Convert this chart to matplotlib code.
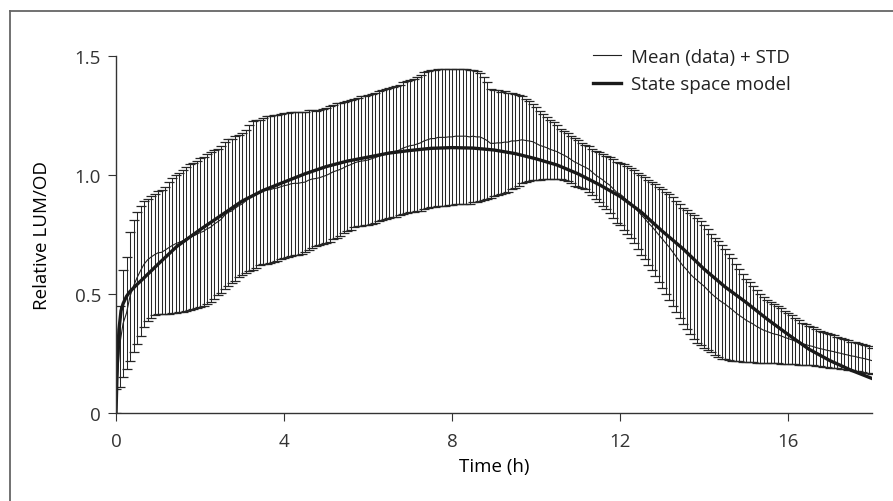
import numpy as np
import matplotlib.pyplot as plt
from matplotlib.lines import Line2D

plt.rcParams.update(
    {
        "font.family": ["Open Sans", "DejaVu Sans"],
        "font.size": 13.5,
        "axes.linewidth": 1.0,
        "axes.edgecolor": "#333333",
        "xtick.color": "#333333",
        "ytick.color": "#333333",
        "text.color": "#222222",
    }
)

# measurements every 5 min, 0..18 h
time_h = np.arange(217) / 12.0

mean_data = [
    0.05, 0.28, 0.375, 0.42, 0.49, 0.533, 0.568, 0.598, 0.625, 0.643, 0.655, 0.665,
    0.673, 0.675, 0.684, 0.694, 0.703, 0.711, 0.717, 0.723, 0.732, 0.739, 0.743, 0.75,
    0.758, 0.763, 0.774, 0.78, 0.793, 0.803, 0.813, 0.83, 0.843, 0.848, 0.86, 0.87,
    0.878, 0.89, 0.903, 0.913, 0.92, 0.925, 0.933, 0.937, 0.938, 0.943, 0.945, 0.95,
    0.955, 0.958, 0.963, 0.965, 0.965, 0.968, 0.97, 0.978, 0.983, 0.985, 0.988, 0.993,
    0.998, 1.005, 1.013, 1.018, 1.023, 1.03, 1.038, 1.043, 1.05, 1.055, 1.058, 1.06,
    1.063, 1.068, 1.073, 1.078, 1.083, 1.088, 1.093, 1.098, 1.10, 1.105, 1.113, 1.118,
    1.123, 1.125, 1.13, 1.135, 1.143, 1.148, 1.153, 1.153, 1.158, 1.158, 1.158, 1.16,
    1.16, 1.163, 1.163, 1.163, 1.163, 1.16, 1.163, 1.16, 1.16, 1.153, 1.145, 1.133,
    1.133, 1.135, 1.135, 1.138, 1.138, 1.143, 1.143, 1.145, 1.148, 1.145, 1.143, 1.14,
    1.133, 1.125, 1.12, 1.115, 1.108, 1.103, 1.098, 1.09, 1.083, 1.075, 1.065, 1.055,
    1.048, 1.04, 1.033, 1.025, 1.013, 1.0, 0.99, 0.98, 0.968, 0.958, 0.943, 0.928,
    0.92, 0.908, 0.893, 0.883, 0.868, 0.85, 0.833, 0.818, 0.80, 0.785, 0.768, 0.75,
    0.733, 0.715, 0.698, 0.678, 0.658, 0.638, 0.618, 0.603, 0.585, 0.57, 0.558, 0.545,
    0.533, 0.518, 0.503, 0.49, 0.478, 0.467, 0.458, 0.446, 0.435, 0.422, 0.411, 0.401,
    0.39, 0.382, 0.374, 0.364, 0.356, 0.348, 0.343, 0.337, 0.332, 0.329, 0.324, 0.318,
    0.313, 0.308, 0.302, 0.297, 0.291, 0.288, 0.283, 0.28, 0.275, 0.271, 0.268, 0.264,
    0.261, 0.258, 0.254, 0.251, 0.247, 0.244, 0.24, 0.238, 0.234, 0.231, 0.228, 0.224,
    0.22,
]

std_data = [
    0.05, 0.17, 0.225, 0.235, 0.27, 0.278, 0.278, 0.273, 0.265, 0.258, 0.255, 0.255,
    0.258, 0.26, 0.267, 0.276, 0.283, 0.289, 0.293, 0.297, 0.303, 0.306, 0.307, 0.31,
    0.313, 0.313, 0.316, 0.315, 0.313, 0.308, 0.308, 0.31, 0.308, 0.303, 0.305, 0.30,
    0.298, 0.30, 0.308, 0.313, 0.31, 0.305, 0.308, 0.309, 0.308, 0.308, 0.305, 0.305,
    0.305, 0.303, 0.303, 0.30, 0.30, 0.298, 0.295, 0.293, 0.288, 0.285, 0.283, 0.283,
    0.283, 0.285, 0.283, 0.283, 0.278, 0.275, 0.273, 0.273, 0.27, 0.27, 0.273, 0.27,
    0.273, 0.273, 0.273, 0.273, 0.273, 0.273, 0.273, 0.273, 0.275, 0.275, 0.278, 0.278,
    0.278, 0.28, 0.28, 0.285, 0.288, 0.288, 0.288, 0.288, 0.288, 0.288, 0.288, 0.285,
    0.285, 0.283, 0.283, 0.283, 0.283, 0.28, 0.278, 0.275, 0.27, 0.258, 0.245, 0.228,
    0.223, 0.22, 0.215, 0.213, 0.208, 0.203, 0.198, 0.19, 0.183, 0.175, 0.168, 0.16,
    0.153, 0.145, 0.135, 0.13, 0.123, 0.118, 0.113, 0.105, 0.103, 0.10, 0.10, 0.10,
    0.098, 0.095, 0.093, 0.095, 0.098, 0.10, 0.105, 0.11, 0.113, 0.118, 0.123, 0.128,
    0.13, 0.138, 0.143, 0.148, 0.153, 0.16, 0.168, 0.173, 0.18, 0.185, 0.193, 0.20,
    0.208, 0.215, 0.223, 0.228, 0.233, 0.238, 0.243, 0.248, 0.255, 0.26, 0.263, 0.26,
    0.258, 0.253, 0.248, 0.245, 0.243, 0.239, 0.233, 0.224, 0.215, 0.204, 0.194, 0.185,
    0.175, 0.168, 0.161, 0.152, 0.145, 0.138, 0.133, 0.128, 0.124, 0.121, 0.117, 0.112,
    0.108, 0.103, 0.098, 0.094, 0.089, 0.087, 0.083, 0.08, 0.076, 0.074, 0.073, 0.071,
    0.07, 0.068, 0.066, 0.065, 0.063, 0.062, 0.06, 0.06, 0.059, 0.059, 0.058, 0.056,
    0.055,
]

# state space model output
model_t = [
    0.0, 0.03, 0.07, 0.12, 0.17, 0.25, 0.33, 0.5, 0.65, 1.0, 1.45, 2.0, 2.5, 3.0,
    3.5, 4.0, 4.5, 5.0, 5.5, 6.0, 6.5, 7.0, 7.5, 8.0, 8.5, 9.0, 9.5, 10.0, 10.5,
    11.0, 11.5, 12.0, 12.5, 13.0, 13.5, 14.0, 14.5, 15.0, 15.5, 16.0, 16.5, 17.0,
    17.5, 18.0,
]
model_y = [
    0.0, 0.2, 0.35, 0.43, 0.46, 0.49, 0.51, 0.54, 0.565, 0.625, 0.70, 0.77, 0.83, 0.89,
    0.935, 0.97, 1.005, 1.035, 1.058, 1.075, 1.092, 1.103, 1.112, 1.115, 1.113, 1.105,
    1.09, 1.068, 1.042, 1.005, 0.96, 0.91, 0.845, 0.765, 0.69, 0.605, 0.53, 0.465,
    0.395, 0.33, 0.268, 0.22, 0.18, 0.145,
]

x_ticks = [0, 4, 8, 12, 16]
y_ticks = [0, 0.5, 1.0, 1.5]
y_ticklabels = ["0", "0.5", "1.0", "1.5"]

fig = plt.figure(figsize=(8.93, 5.02), dpi=100)
ax = fig.add_axes([0.1299, 0.1753, 0.8466, 0.7112])

ax.errorbar(
    time_h, mean_data, yerr=std_data, fmt="none",
    ecolor="#262626", elinewidth=0.75, capsize=3.5, capthick=0.9,
)
ax.plot(time_h, mean_data, color="#222222", lw=0.8, label="Mean (data) + STD")
ax.plot(model_t, model_y, color="#1a1a1a", lw=2.4, label="State space model")

ax.set_xlim(0, 18)
ax.set_ylim(0, 1.5)
ax.set_xticks(x_ticks)
ax.set_yticks(y_ticks)
ax.set_yticklabels(y_ticklabels)
ax.tick_params(axis="x", direction="out", length=5.8, width=0.8, pad=8)
ax.spines["top"].set_visible(False)
ax.spines["right"].set_visible(False)
ax.tick_params(axis="y", direction="out", length=5.8, width=0.8, pad=5)
ax.set_xlabel("Time (h)", labelpad=5)
ax.set_ylabel("Relative LUM/OD", labelpad=17)

ax.legend(
    loc="upper right", bbox_to_anchor=(0.915, 1.07), frameon=False,
    handlelength=1.5, handletextpad=0.55, labelspacing=0.5,
)

# outer frame (top and left edge, as in the cropped figure)
fig.add_artist(Line2D([0.0112, 0.0112], [0.0, 0.976], color="#666666", lw=1.3))
fig.add_artist(Line2D([0.0112, 1.0], [0.976, 0.976], color="#666666", lw=1.3))

fig.savefig("out.png", dpi=100)
